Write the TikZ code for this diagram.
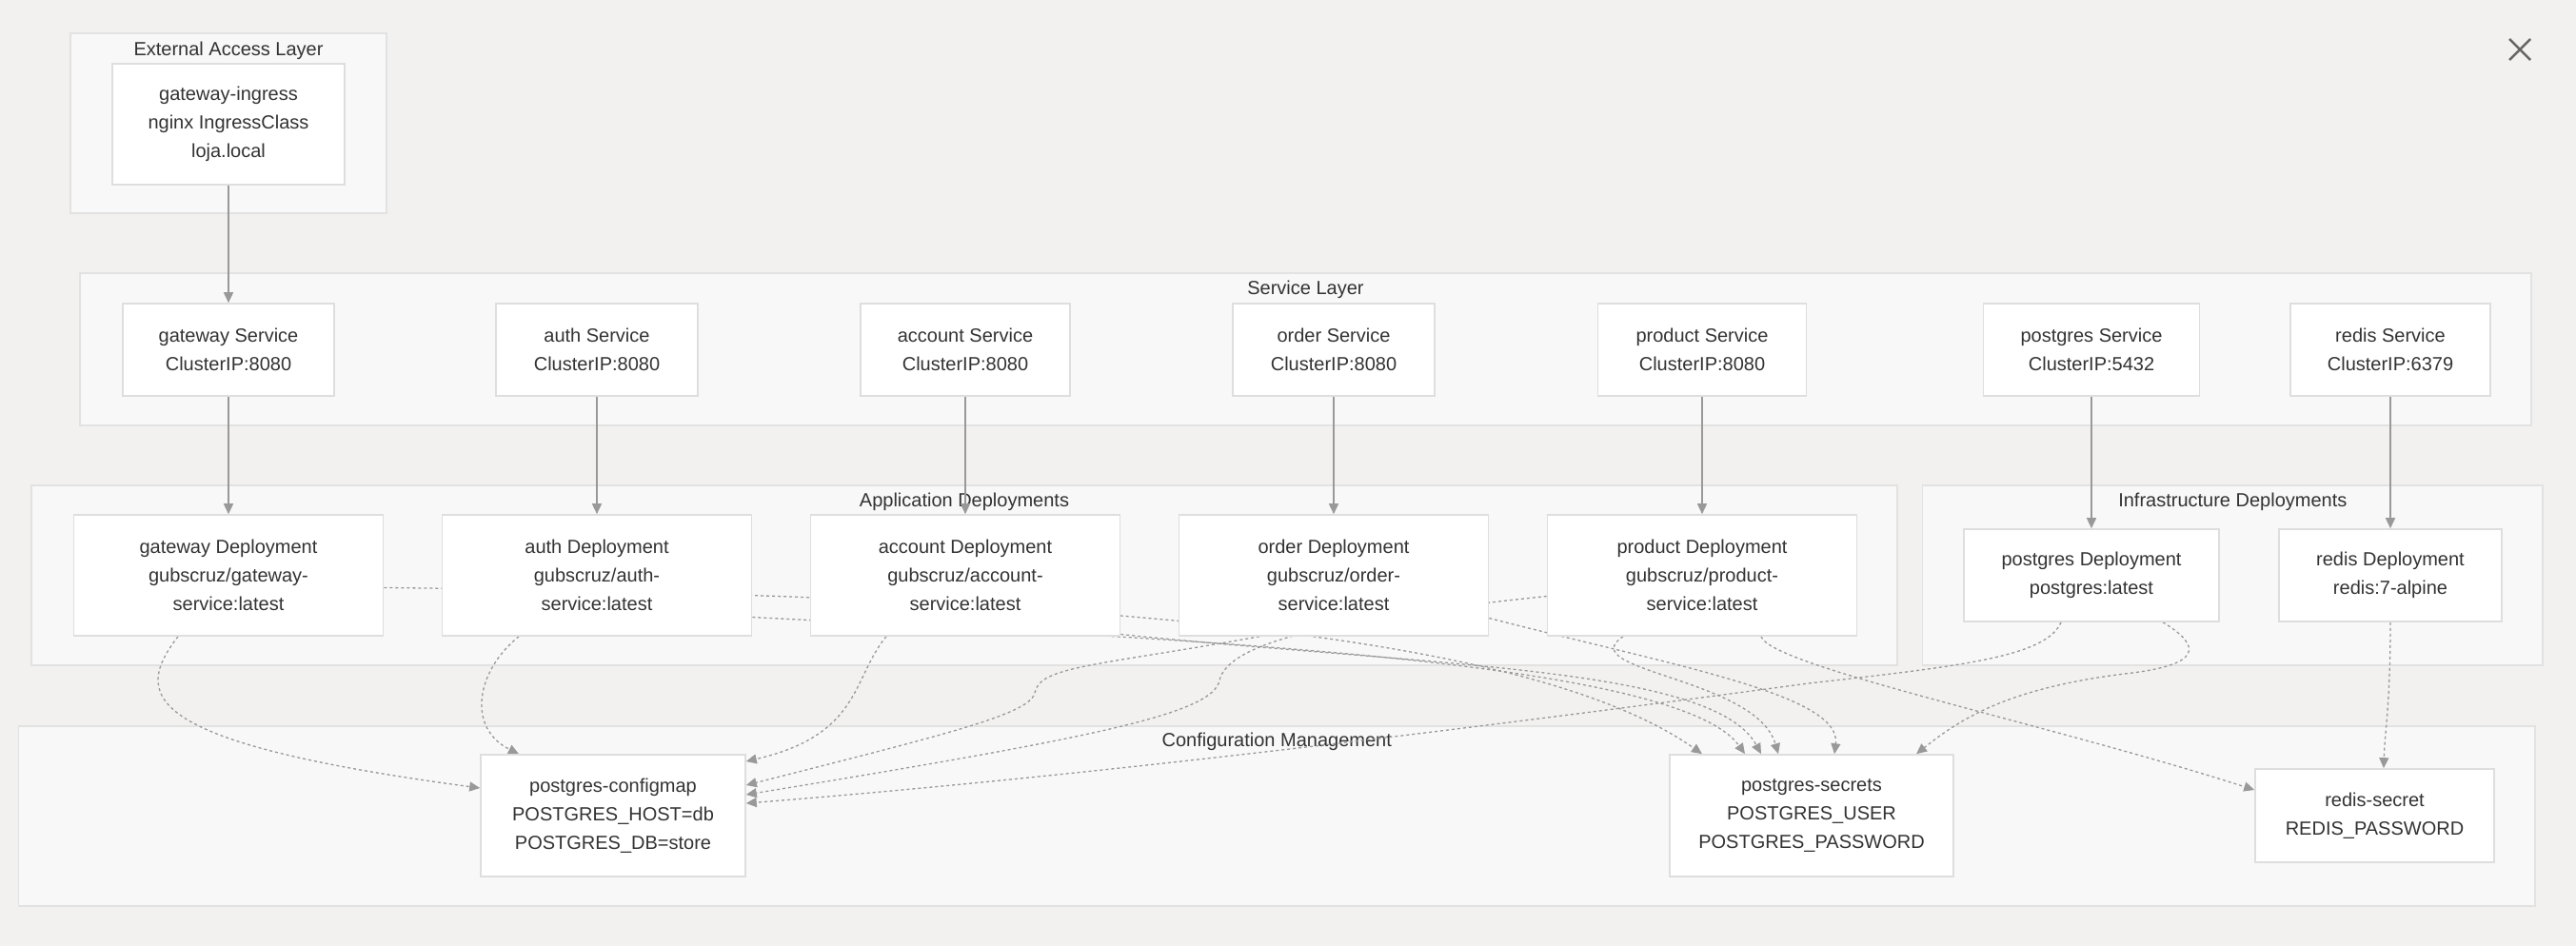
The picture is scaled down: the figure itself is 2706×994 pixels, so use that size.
\documentclass[tikz,border=0pt]{standalone}
\usepackage{fontspec}
\setmainfont{Liberation Sans}
\usetikzlibrary{%
    arrows.meta,
    calc
}

\definecolor{canvasbg}{RGB}{242,241,239}
\definecolor{clusterbg}{RGB}{248,248,248}
\definecolor{clusterline}{RGB}{226,226,226}
\definecolor{boxline}{RGB}{222,222,222}
\definecolor{edgegray}{RGB}{153,153,153}
\definecolor{labelgray}{RGB}{51,51,51}
\definecolor{closegray}{RGB}{102,102,102}

\pgfdeclarelayer{clusterlayer}
\pgfdeclarelayer{edgelayer}
\pgfsetlayers{clusterlayer,edgelayer,main}

\tikzset{
    k8sbox/.style={draw=boxline, fill=white, line width=0.8pt, align=center,
        inner sep=0pt, text=labelgray, font=\fontsize{10pt}{15pt}\selectfont},
    appbox/.style={k8sbox, minimum width=162.5pt, minimum height=63.5pt},
    svcbox/.style={k8sbox, minimum height=48.5pt},
    cfgbox/.style={k8sbox, minimum height=64pt},
    cluster/.style={draw=clusterline, fill=clusterbg, line width=0.8pt, inner sep=0pt},
    clustertitle/.style={text=labelgray, inner sep=0pt,
        font=\fontsize{10pt}{12pt}\selectfont},
    flow/.style={draw=edgegray, line width=0.8pt,
        -{Triangle[length=5.5pt,width=5pt]}},
    uses/.style={draw=edgegray, line width=0.65pt, dash pattern=on 1.5pt off 1.5pt,
        -{Triangle[length=5.5pt,width=5pt]}}
}

\begin{document}
\begin{tikzpicture}[x=0.5pt, y=-0.5pt]
    \begin{pgfonlayer}{clusterlayer}
        \fill[canvasbg] (0,0) rectangle (2706,994);
        \node[cluster, minimum width=166pt, minimum height=94.5pt] (extlayer) at (240,129.5) {};
        \node[cluster, minimum width=1287.5pt, minimum height=80pt] (svclayer) at (1371.5,367) {};
        \node[cluster, minimum width=980pt, minimum height=94.5pt] (applayer) at (1013,604.5) {};
        \node[cluster, minimum width=325.7pt, minimum height=94.5pt] (infralayer) at (2345.3,604.5) {};
        \node[cluster, minimum width=1321.75pt, minimum height=94.5pt] (cfglayer) at (1341.25,857.5) {};

        \node[clustertitle] (exttitle) at ($(extlayer.north)+(0,19)$) {External Access Layer};
        \node[clustertitle] (svctitle) at ($(svclayer.north)+(0,18)$) {Service Layer};
        \node[clustertitle] (apptitle) at ($(applayer.north)+(0,18)$) {Application Deployments};
        \node[clustertitle] (infratitle) at ($(infralayer.north)+(0,18)$) {Infrastructure Deployments};
        \node[clustertitle] (cfgtitle) at ($(cfglayer.north)+(0,17)$) {Configuration Management};
    \end{pgfonlayer}

    \node[k8sbox, minimum width=122pt, minimum height=63.5pt] (ingress) at (240,130.5) {gateway-ingress\\nginx IngressClass\\loja.local};

    \node[svcbox, minimum width=111pt]   (gwsvc)    at (240,367.5)  {gateway Service\\ClusterIP:8080};
    \node[svcbox, minimum width=106pt]   (authsvc)  at (627,367.5)  {auth Service\\ClusterIP:8080};
    \node[svcbox, minimum width=110pt]   (accsvc)   at (1014,367.5) {account Service\\ClusterIP:8080};
    \node[svcbox, minimum width=106pt]   (ordersvc) at (1401,367.5) {order Service\\ClusterIP:8080};
    \node[svcbox, minimum width=109.5pt] (prodsvc)  at (1788,367.5) {product Service\\ClusterIP:8080};
    \node[svcbox, minimum width=113.5pt] (pgsvc)    at (2197,367.5) {postgres Service\\ClusterIP:5432};
    \node[svcbox, minimum width=105pt]   (redissvc) at (2511,367.5) {redis Service\\ClusterIP:6379};

    \node[appbox] (gwdep)    at (240,604.5)  {gateway Deployment\\gubscruz/gateway-\\service:latest};
    \node[appbox] (authdep)  at (627,604.5)  {auth Deployment\\gubscruz/auth-\\service:latest};
    \node[appbox] (accdep)   at (1014,604.5) {account Deployment\\gubscruz/account-\\service:latest};
    \node[appbox] (orderdep) at (1401,604.5) {order Deployment\\gubscruz/order-\\service:latest};
    \node[appbox] (proddep)  at (1788,604.5) {product Deployment\\gubscruz/product-\\service:latest};
    \node[svcbox, minimum width=134pt] (pgdep)    at (2197,604.5) {postgres Deployment\\postgres:latest};
    \node[svcbox, minimum width=117pt] (redisdep) at (2511,604.5) {redis Deployment\\redis:7-alpine};

    \node[cfgbox, minimum width=139pt] (pgconfig) at (644,857)  {postgres-configmap\\POSTGRES\_HOST=db\\POSTGRES\_DB=store};
    \node[cfgbox, minimum width=149pt] (pgsecret) at (1903,857) {postgres-secrets\\POSTGRES\_USER\\POSTGRES\_PASSWORD};
    \node[svcbox, minimum width=125.5pt, minimum height=49pt] (redissecret) at (2494.5,857) {redis-secret\\REDIS\_PASSWORD};

    \begin{pgfonlayer}{edgelayer}
        \draw[flow] (ingress) -- (gwsvc);
        \foreach \Source/\Target in {gwsvc/gwdep, authsvc/authdep, accsvc/accdep,
                ordersvc/orderdep, prodsvc/proddep, pgsvc/pgdep, redissvc/redisdep}
            \draw[flow] (\Source) -- (\Target);

        \draw[uses] ($(gwdep.south)+(-53,0)$) .. controls (140,730) and (145,780) .. ($(pgconfig.west)+(0,-29)$);
        \draw[uses] ($(gwdep.east)+(0,13)$) .. controls (1100,625) and (1600,660) .. ($(pgsecret.north)+(-115,0)$);
        \draw[uses] ($(authdep.south)+(-82,0)$) .. controls (500,705) and (490,765) .. ($(pgconfig.north)+(-99,0)$);
        \draw[uses] ($(authdep.east)+(0,44)$) .. controls (1200,670) and (1760,690) .. ($(pgsecret.north)+(-70,0)$);
        \draw[uses] ($(accdep.south)+(-83,0)$) .. controls (895,712) and (905,772) .. ($(pgconfig.east)+(0,-57)$);
        \draw[uses] ($(accdep.east)+(0,62)$) .. controls (1500,700) and (1800,700) .. ($(pgsecret.north)+(-53,0)$);
        \draw[uses] ($(orderdep.south)+(-78,0)$) .. controls (1150,700) and (1092,700) .. (1087,728)
            .. controls (1082,750) and (1000,770) .. ($(pgconfig.east)+(0,-32)$);
        \draw[uses] ($(orderdep.east)+(0,45)$) .. controls (1760,700) and (1935,730) .. ($(pgsecret.north)+(24,0)$);
        \draw[uses] ($(proddep.west)+(0,22)$) .. controls (1400,650) and (1290,675) .. (1281,715)
            .. controls (1274,750) and (1150,775) .. ($(pgconfig.east)+(0,-22)$);
        \draw[uses] ($(proddep.south)+(-83,0)$) .. controls (1650,705) and (1845,712) .. ($(pgsecret.north)+(-35,0)$);
        \draw[uses] ($(proddep.south)+(62,0)$) .. controls (1860,700) and (2150,760) .. ($(redissecret.west)+(0,-27)$);
        \draw[uses] ($(pgdep.south)+(-32,0)$) .. controls (2150,690) and (2060,700) .. (1900,718)
            .. controls (1550,765) and (1150,815) .. ($(pgconfig.east)+(0,-13)$);
        \draw[uses] ($(pgdep.south)+(75,0)$) .. controls (2315,680) and (2310,698) .. (2240,707)
            .. controls (2110,722) and (2060,755) .. ($(pgsecret.north)+(110,0)$);
        \draw[uses] (redisdep.south) .. controls (2511,740) and (2505,770) .. ($(redissecret.north)+(9.5,0)$);
    \end{pgfonlayer}

    \coordinate (closebtn) at (2647,52);
    \draw[closegray, line width=1.25pt] ($(closebtn)+(-11,-11)$) -- ($(closebtn)+(11,11)$)
        ($(closebtn)+(-11,11)$) -- ($(closebtn)+(11,-11)$);
\end{tikzpicture}
\end{document}
